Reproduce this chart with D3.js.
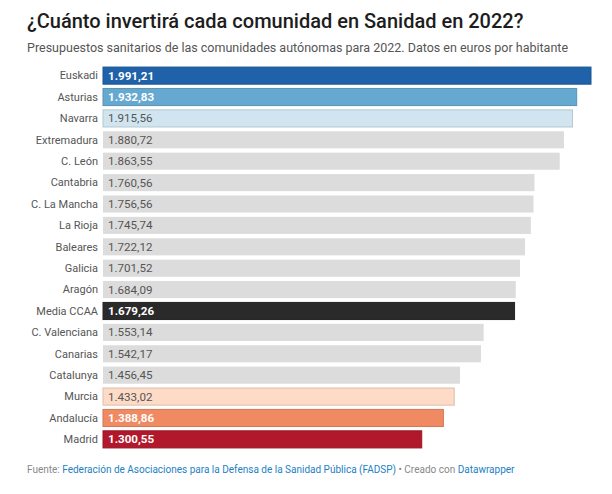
<!DOCTYPE html>
<html>
<head>
<meta charset="utf-8">
<script src="https://cdn.jsdelivr.net/npm/d3@7"></script>
<style>
  body { margin: 0; background: #fff; font-family: Roboto, sans-serif; }
  .title { font-size: 20px; font-weight: 500; fill: #1d1d1d; }
  .sub { font-size: 12.5px; fill: #555; }
  .lbl { font-size: 11px; fill: #555; }
  .foot { font-size: 10px; fill: #888; }
  .link { fill: #1d81c2; }
</style>
</head>
<body>
<script>
const regions = ["Euskadi", "Asturias", "Navarra", "Extremadura", "C. León", "Cantabria",
  "C. La Mancha", "La Rioja", "Baleares", "Galicia", "Aragón", "Media CCAA",
  "C. Valenciana", "Canarias", "Catalunya", "Murcia", "Andalucía", "Madrid"];
const values = [1991.21, 1932.83, 1915.56, 1880.72, 1863.55, 1760.56, 1756.56, 1745.74,
  1722.12, 1701.52, 1684.09, 1679.26, 1553.14, 1542.17, 1456.45, 1433.02, 1388.86, 1300.55];
const fills = {
  "Euskadi": "#1f62aa", "Asturias": "#65a9d1", "Navarra": "#d1e5f0",
  "Media CCAA": "#2a2a2a", "Murcia": "#fddbc7", "Andalucía": "#ef8a62", "Madrid": "#b2182b"
};
const darkText = ["Euskadi", "Asturias", "Media CCAA", "Andalucía", "Madrid"];

const width = 612, height = 494;
const svg = d3.select("body").append("svg")
    .attr("width", width)
    .attr("height", height);

svg.append("text").attr("class", "title").attr("x", 27).attr("y", 28)
    .text("¿Cuánto invertirá cada comunidad en Sanidad en 2022?");
svg.append("text").attr("class", "sub").attr("x", 27).attr("y", 52)
    .text("Presupuestos sanitarios de las comunidades autónomas para 2022. Datos en euros por habitante");

const x = d3.scaleLinear().domain([0, d3.max(values)]).range([103, 591]);
const y = d3.scaleBand().domain(regions).range([66, 449]).paddingInner(0.2).paddingOuter(0.05);

const data = regions.map((r, i) => ({ name: r, value: values[i] }));
const fmt = d3.formatLocale({ decimal: ",", thousands: ".", grouping: [3], currency: ["", "€"] }).format(",.2f");

const rows = svg.append("g").selectAll("g").data(data).join("g");

rows.append("rect")
    .attr("x", x(0))
    .attr("y", d => y(d.name))
    .attr("width", d => x(d.value) - x(0))
    .attr("height", y.bandwidth())
    .attr("fill", d => fills[d.name] || "#dcdcdc")
    .attr("stroke", d => fills[d.name] ? d3.color(fills[d.name]).darker(0.4) : "none")
    .attr("stroke-width", d => fills[d.name] ? 1 : 0);

rows.append("text")
    .attr("class", "lbl")
    .attr("x", 98)
    .attr("y", d => y(d.name) + y.bandwidth() / 2)
    .attr("dy", "0.35em")
    .attr("text-anchor", "end")
    .text(d => d.name);

rows.append("text")
    .attr("x", x(0) + 5)
    .attr("y", d => y(d.name) + y.bandwidth() / 2)
    .attr("dy", "0.35em")
    .style("font-size", "11.6px")
    .style("font-weight", d => darkText.includes(d.name) ? 700 : 400)
    .attr("fill", d => darkText.includes(d.name) ? "#fff" : "#555")
    .text(d => fmt(d.value));

const foot = svg.append("text").attr("class", "foot").attr("x", 27).attr("y", 473);
foot.append("tspan").text("Fuente: ");
foot.append("tspan").attr("class", "link").text("Federación de Asociaciones para la Defensa de la Sanidad Pública (FADSP)");
foot.append("tspan").text(" • Creado con ");
foot.append("tspan").attr("class", "link").text("Datawrapper");
</script>
</body>
</html>
